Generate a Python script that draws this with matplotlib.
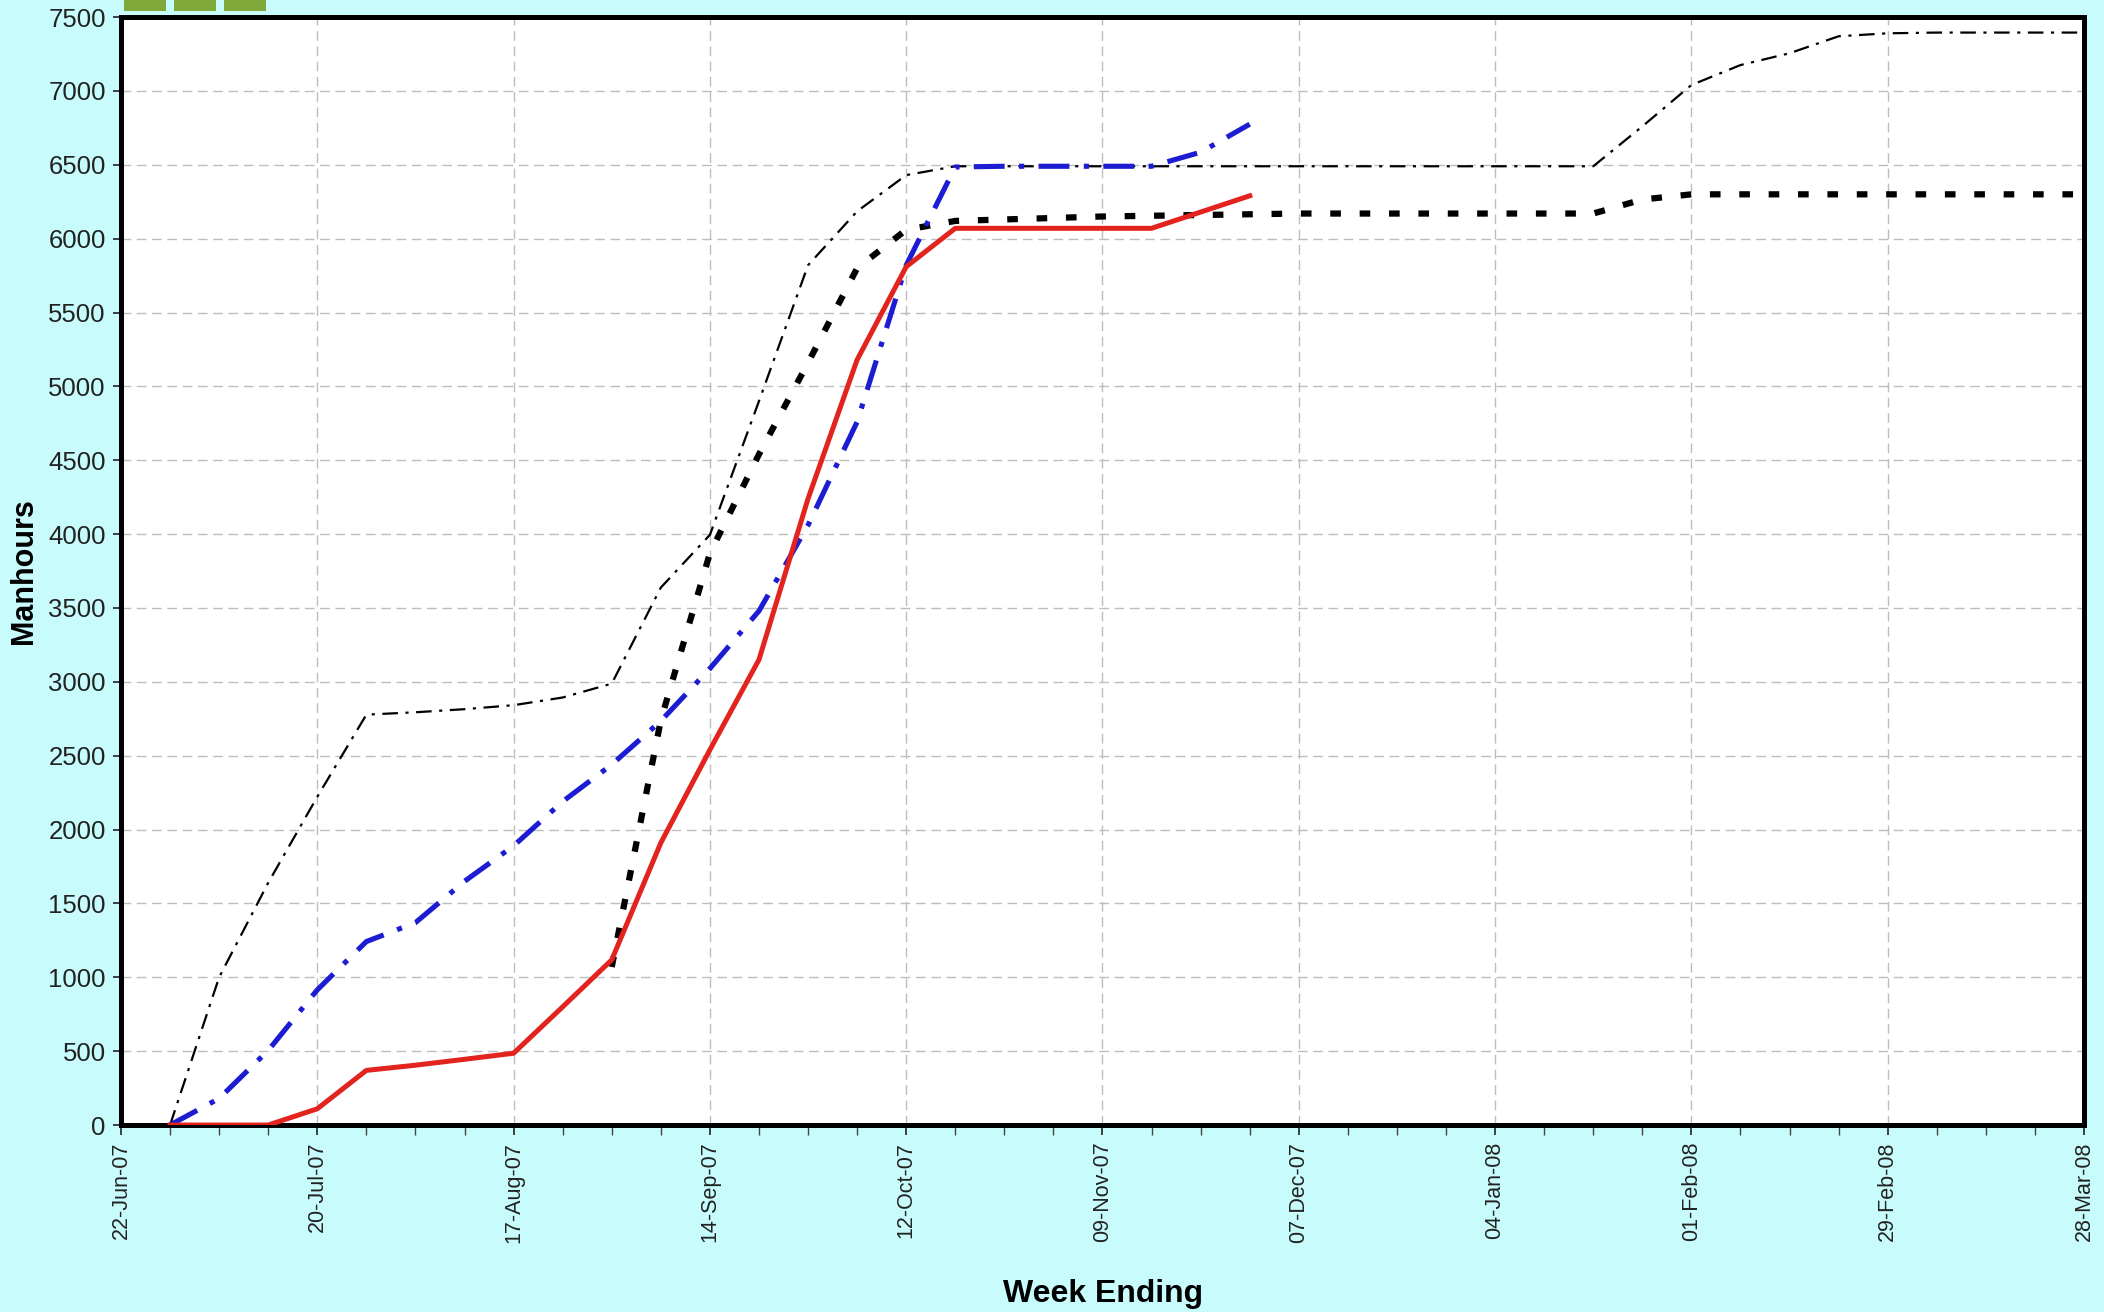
" manhours s-curve plot "
import matplotlib
matplotlib.use("Agg")
import matplotlib.pyplot as plt
import matplotlib.dates as mdates
import matplotlib.ticker as mticker
import numpy as np
import pandas as pd
from matplotlib.patches import Rectangle

plt.rcParams['font.family'] = ['Liberation Sans', 'DejaVu Sans']

# week ending dates, one per week from 22-Jun-07 to 28-Mar-08
weeks = pd.date_range("2007-06-22", "2008-03-28", freq="7D")

# actual (red solid), weeks 1..23
actual = [0, 0, 0, 110, 370, 405, 445, 486, 800, 1118, 1910, 2540, 3150,
          4240, 5180, 5810, 6070, 6070, 6070, 6070, 6070, 6180, 6290]
# earned (blue dash-dot), weeks 1..23
earned = [0, 180, 505, 915, 1242, 1370, 1650, 1890, 2190, 2440, 2735, 3090,
          3480, 4060, 4760, 5820, 6485, 6490, 6490, 6490, 6490, 6585, 6775]
# planned (thin black dash-dot), weeks 1..40
planned = [0, 1000, 1640, 2222, 2778, 2794, 2815, 2842, 2894, 2988, 3638,
           3995, 4900, 5820, 6185, 6430, 6490, 6490, 6490, 6490, 6490, 6490,
           6490, 6490, 6490, 6490, 6490, 6490, 6490, 6490, 6760, 7040, 7175,
           7255, 7370, 7390, 7395, 7395, 7395, 7395]
# forecast (heavy black dotted), weeks 10..40
forecast = [1070, 2740, 3870, 4540, 5160, 5800, 6060, 6120, 6130, 6140, 6150,
            6155, 6160, 6165, 6170, 6170, 6170, 6170, 6170, 6170, 6170, 6265,
            6300, 6300, 6300, 6300, 6300, 6300, 6300, 6300, 6300]

bg = "#C8FCFC"
fig = plt.figure(figsize=(21.04, 13.12), dpi=100, facecolor=bg)
ax = fig.add_axes([0.0575, 0.1425, 0.933, 0.8445])
ax.set_facecolor("white")

ax.plot(weeks[1:1 + len(planned)], planned, color="black", lw=1.6,
        dashes=(7, 3.4, 1.4, 3.4), zorder=3)
ax.plot(weeks[10:10 + len(forecast)], forecast, color="black", lw=4.5,
        dashes=(1.7, 3), zorder=4)
ax.plot(weeks[1:1 + len(earned)], earned, color="#1C1CD2", lw=3.7,
        dashes=(6, 2.8, 1, 2.8), zorder=5)
ax.plot(weeks[1:1 + len(actual)], actual, color="#E2231E", lw=3.6, zorder=6)

ax.set_xlim(weeks[0], weeks[-1])
ax.set_ylim(0, 7500)
ax.set_yticks(np.arange(0, 7501, 500))
ax.xaxis.set_major_locator(mticker.FixedLocator(mdates.date2num(weeks[::4])))
ax.xaxis.set_minor_locator(mticker.FixedLocator(mdates.date2num(weeks)))
ax.xaxis.set_major_formatter(mdates.DateFormatter("%d-%b-%y"))
plt.setp(ax.get_xticklabels(), rotation=90)

ax.grid(True, which="major", color="#BDBDBD", lw=1.0, dashes=(7, 4))
ax.tick_params(axis="y", which="major", labelsize=18.5, colors="#222222",
               length=6, width=1.2, direction="out", pad=5)
ax.tick_params(axis="x", which="major", labelsize=15.5, colors="#222222",
               length=7, width=1.2, direction="out", pad=5)
ax.tick_params(axis="x", which="minor", length=7, width=1.0,
               direction="out", color="#444444")
for sp in ax.spines.values():
    sp.set_linewidth(3.6)
    sp.set_color("black")

fig.text(24 / 2104, 1 - 571 / 1312, "Manhours", fontsize=22,
         fontweight="bold", rotation=90, ha="center", va="center")
fig.text(1103 / 2104, 1 - 1294 / 1312, "Week Ending", fontsize=23,
         fontweight="bold", ha="center", va="center")

# logo boxes cut off at top edge
for x0 in [124, 174, 224]:
    fig.patches.append(Rectangle((x0 / 2104, 1 - 11 / 1312), 42 / 2104,
                                 11 / 1312, transform=fig.transFigure,
                                 facecolor="#7FA83A", edgecolor="none"))

fig.savefig("out.png", dpi=100, facecolor=bg)
